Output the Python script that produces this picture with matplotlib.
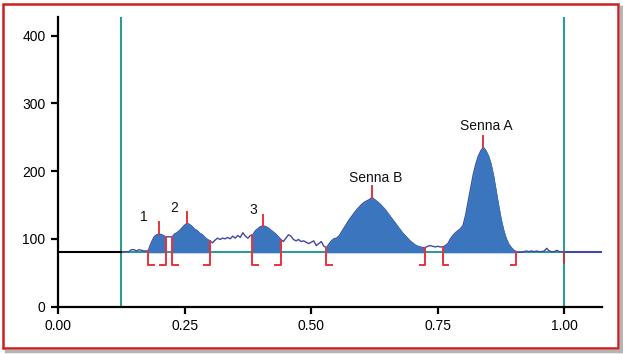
import matplotlib
matplotlib.use("Agg")
import matplotlib.pyplot as plt
from matplotlib.lines import Line2D
from matplotlib.patches import Rectangle
import numpy as np

plt.rcParams['font.family'] = ['Liberation Sans', 'DejaVu Sans']

# ---- data ----
rf = [0.125, 0.13, 0.14, 0.145, 0.15, 0.155, 0.16, 0.165, 0.17, 0.178,
      0.182, 0.186, 0.19, 0.195, 0.200, 0.205, 0.21, 0.213,
      0.22, 0.226,
      0.23, 0.235, 0.24, 0.245, 0.25, 0.255, 0.26, 0.265, 0.27, 0.275, 0.28, 0.285, 0.29, 0.295, 0.30,
      0.305, 0.31, 0.315, 0.32, 0.325, 0.33, 0.335, 0.34, 0.345, 0.35, 0.355, 0.36, 0.365, 0.37, 0.375, 0.38,
      0.384, 0.39, 0.395, 0.40, 0.405, 0.41, 0.415, 0.42, 0.425, 0.43, 0.435, 0.44,
      0.445, 0.45, 0.455, 0.46, 0.465, 0.47, 0.475, 0.48, 0.485, 0.49, 0.495, 0.50, 0.505, 0.51, 0.515, 0.52, 0.525, 0.53,
      0.535, 0.54, 0.545, 0.55, 0.555, 0.56, 0.565, 0.57, 0.575, 0.58, 0.585, 0.59, 0.595, 0.60, 0.605, 0.61, 0.615, 0.62,
      0.625, 0.63, 0.635, 0.64, 0.645, 0.65, 0.655, 0.66, 0.665, 0.67, 0.675, 0.68, 0.685, 0.69, 0.695, 0.70, 0.705, 0.71, 0.715, 0.72, 0.725,
      0.73, 0.735, 0.74, 0.745, 0.75, 0.755, 0.76,
      0.765, 0.77, 0.775, 0.78, 0.785, 0.79, 0.795, 0.80, 0.805, 0.81, 0.815, 0.82, 0.825, 0.83, 0.835, 0.84,
      0.845, 0.85, 0.855, 0.86, 0.865, 0.87, 0.875, 0.88, 0.885, 0.89, 0.895, 0.90, 0.905,
      0.91, 0.915, 0.92, 0.925, 0.93, 0.935, 0.94, 0.945, 0.95, 0.955, 0.96, 0.965, 0.97, 0.975, 0.98, 0.985, 0.99, 0.995, 1.0]
signal = [80, 81, 81, 84, 84, 82, 84, 83, 82, 82,
          90, 97, 103, 106, 107, 106, 104, 103,
          103, 103,
          107, 109, 112, 116, 120, 123, 121, 118, 114, 112, 108, 106, 102, 99, 97,
          94, 98, 101, 99, 101, 100, 102, 100, 104, 101, 105, 102, 109, 104, 101, 105,
          105, 112, 115, 118, 119, 118, 116, 113, 110, 107, 103, 99,
          96, 101, 106, 104, 99, 97, 99, 96, 97, 95, 93, 95, 97, 90, 93, 96, 89, 87,
          92, 97, 100, 101, 104, 110, 116, 122, 128, 133, 138, 143, 147, 151, 154, 156, 158, 161,
          158, 155, 152, 148, 144, 139, 134, 129, 124, 119, 114, 109, 105, 101, 97, 94, 91, 89, 88, 87, 87,
          89, 90, 89, 88, 89, 88, 88,
          90, 93, 100, 105, 109, 112, 115, 120, 135, 155, 175, 195, 210, 222, 230, 235,
          230, 222, 210, 192, 170, 148, 128, 112, 100, 92, 87, 83, 81,
          80, 80, 81, 82, 81, 82, 81, 82, 81, 81, 82, 86, 82, 81, 81, 83, 81, 81, 81]
tail_rf = [1.0, 1.074]
tail_signal = [81, 81]
pre_rf = [0.0, 0.125]
pre_signal = [80, 80]
baseline = 80

peak_start = [0.178, 0.226, 0.384, 0.530, 0.760]
peak_end = [0.213, 0.300, 0.440, 0.725, 0.905]
peak_rf = [0.200, 0.255, 0.405, 0.620, 0.840]
peak_top = [107, 123, 119, 161, 235]
peak_mark = [125, 140, 135, 178, 252]
label_text = ["1", "2", "3", "Senna B", "Senna A"]
label_rf = [0.169, 0.229, 0.386, 0.627, 0.845]
label_y = [132, 146, 143, 190, 266]

xticks = [0.0, 0.25, 0.5, 0.75, 1.0]
xticklabels = ["0.00", "0.25", "0.50", "0.75", "1.00"]
yticks = [0, 100, 200, 300, 400]
start_line = 0.125
end_line = 1.0

# ---- styles ----
FILL = '#3b75bd'
NAVY = '#4048a8'
TEAL = '#2f9a94'
RED = '#e8333a'

fig = plt.figure(figsize=(6.23, 3.55), dpi=100)
ax = fig.add_axes([0.0931, 0.1366, 0.873, 0.816])
ax.set_xlim(0, 1.074)
ax.set_ylim(0, 428)

rf_a = np.array(rf)
sig_a = np.array(signal)

# profile
ax.plot(rf, signal, color=NAVY, lw=1.0, zorder=3)
ax.plot(tail_rf, tail_signal, color=NAVY, lw=1.5, zorder=3)

# filled integrated peaks (cover the profile line)
for s, e in zip(peak_start, peak_end):
    m = (rf_a >= s - 1e-9) & (rf_a <= e + 1e-9)
    ax.fill_between(rf_a[m], baseline, sig_a[m], color=FILL, lw=0.6, edgecolor=FILL, zorder=4)

# baseline (teal), pre-line, vertical start/end lines
ax.plot([start_line, end_line], [baseline, baseline], color=TEAL, lw=1.5, zorder=2)
ax.plot(pre_rf, pre_signal, color='black', lw=1.5, zorder=3)
ax.axvline(start_line, color=TEAL, lw=1.5, zorder=1)
ax.axvline(end_line, color=TEAL, lw=1.5, zorder=1)

# boundary markers
foot_y = 61
foot_w = 0.011
for s, e in zip(peak_start, peak_end):
    ys = np.interp(s, rf_a, sig_a)
    ye = np.interp(e, rf_a, sig_a)
    ax.plot([s, s, s + foot_w], [ys, foot_y, foot_y], color=RED, lw=1.4, zorder=5)
    ax.plot([e, e, e - foot_w], [ye, foot_y, foot_y], color=RED, lw=1.4, zorder=5)
ax.plot([end_line, end_line], [baseline, 65], color='#c0393f', lw=1.4, zorder=5)

# peak markers and labels
for p, t, mk in zip(peak_rf, peak_top, peak_mark):
    ax.plot([p, p], [t, mk], color=RED, lw=1.4, zorder=5)
for txt, lx, ly in zip(label_text, label_rf, label_y):
    ax.text(lx, ly, txt, ha='center', va='center', fontsize=10, color='#111111', zorder=6)

# axes styling
for side in ['top', 'right']:
    ax.spines[side].set_visible(False)
for side in ['left', 'bottom']:
    ax.spines[side].set_linewidth(1.6)
ax.set_xticks(xticks)
ax.set_xticklabels(xticklabels)
ax.set_yticks(yticks)
ax.tick_params(direction='out', length=5, width=1.6, labelsize=10, colors='black', pad=4)

# red frame with shadow on bottom/right
W, H = 623.0, 355.0
fig.add_artist(Line2D([6 / W, 620 / W], [1 - 351 / H, 1 - 351 / H], transform=fig.transFigure,
                      color='#b5b5b5', lw=2.5))
fig.add_artist(Line2D([621 / W, 621 / W], [1 - 7 / H, 1 - 351 / H], transform=fig.transFigure,
                      color='#b5b5b5', lw=2.5))
fig.add_artist(Rectangle((3 / W, 1 - 348 / H), 615 / W, 344 / H, transform=fig.transFigure,
                         fill=False, edgecolor='#cc1f1f', lw=1.8))

fig.savefig('out.png', dpi=100)
